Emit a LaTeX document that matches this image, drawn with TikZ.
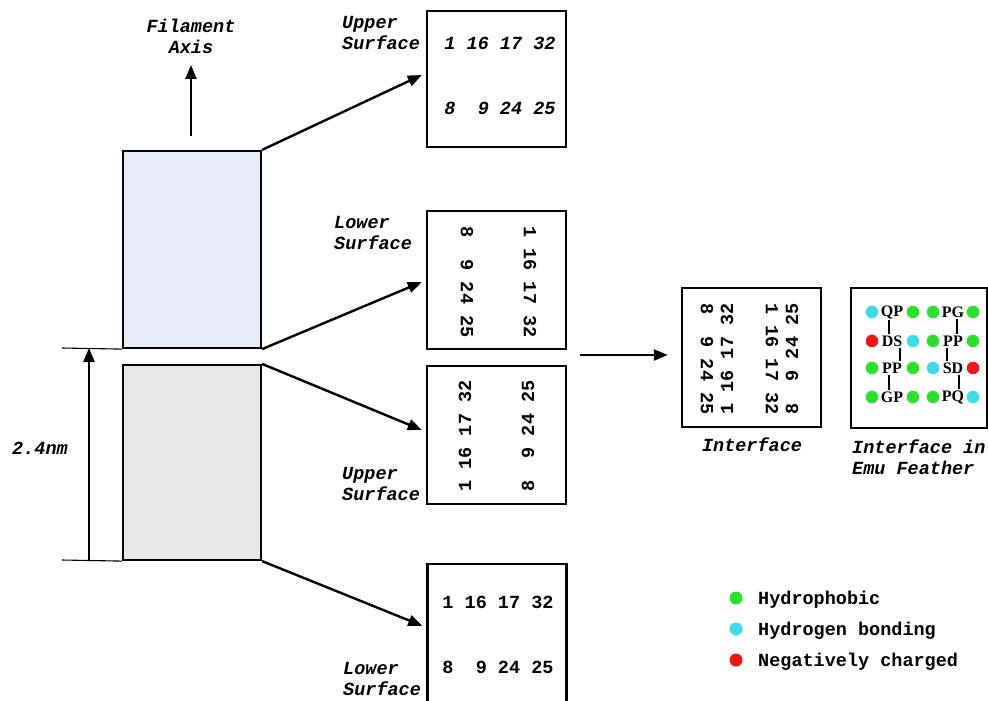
\documentclass[tikz,border=0pt]{standalone}
\usepackage{fontspec}
\setmainfont{Liberation Serif}
\newfontfamily\cour{Liberation Mono}
\usetikzlibrary{arrows.meta,calc}

\definecolor{slabblue}{RGB}{232,236,248}
\definecolor{slabgray}{RGB}{232,232,232}
\definecolor{phob}{RGB}{40,225,40}
\definecolor{hbond}{RGB}{60,220,235}
\definecolor{neg}{RGB}{240,20,20}

\begin{document}
\begin{tikzpicture}[x=1pt,y=-1pt,
  every node/.style={inner sep=0pt},
  txt/.style={font=\cour\bfseries\fontsize{18.5}{21}\selectfont},
  itxt/.style={font=\cour\bfseries\itshape\fontsize{18.5}{21}\selectfont},
  frame/.style={draw, line width=2.4pt, minimum width=139pt},
  slab/.style={draw, line width=2.2pt, minimum width=138pt},
  arr/.style={line width=2.4pt, -{Triangle[length=14pt,width=11pt]}},
  dot/.style={circle, minimum size=12.5pt},
  res/.style={font=\bfseries\fontsize{16}{16}\selectfont},
  link/.style={line width=2.2pt, shorten <=1.5pt, shorten >=1.5pt}]

\useasboundingbox (0,0) rectangle (988,701);

% the two filament slabs
\node[slab, fill=slabblue, minimum height=197pt] (up) at (192,249.5) {};
\node[slab, fill=slabgray, minimum height=195pt] (low) at (192,462.5) {};

% filament axis
\node[itxt, align=center] (fa) at (191,36) {Filament\\Axis};
\coordinate (axfoot) at (191,136);
\coordinate (axtip) at (191,65);
\draw[arr] (axfoot) -- (axtip);

% 2.4 nm dimension
\coordinate (dimtop) at (62,348);
\coordinate (dimbot) at (62,560);
\draw[line width=1.1pt] (dimtop) -- (up.south west);
\draw[line width=1.1pt] (dimbot) -- (low.south west);
\coordinate (dimfoot) at (89,560);
\coordinate (dimhead) at (89,348);
\draw[arr] (dimfoot) -- (dimhead);
\node[itxt] (dimlab) at (40,448) {2.4nm};

% surface boxes
\node[frame, minimum height=136pt] (b1) at (496.5,79) {};
\node[frame, minimum height=138pt] (b2) at (496.5,280) {};
\node[frame, minimum height=138pt] (b3) at (496.5,435) {};
\node[frame, minimum height=156pt] (b4) at (497,642) {};

\node[itxt] (b1r1) at (500,43) {1~16~17~32};
\node[itxt] (b1r2) at (500,108) {8~~9~24~25};

\node[txt, rotate=-90] (b2c1) at (467,282) {8~~9~24~25};
\node[txt, rotate=-90] (b2c2) at (530,282) {1~16~17~32};

\node[txt, rotate=90] (b3c1) at (465,436) {1~16~17~32};
\node[txt, rotate=90] (b3c2) at (528,436) {8~~9~24~25};

\node[txt] (b4r1) at (498,602) {1~16~17~32};
\node[txt] (b4r2) at (498,667) {8~~9~24~25};

% surface labels
\node[itxt, align=left, anchor=west] (l1) at (342,33) {Upper\\Surface};
\node[itxt, align=left, anchor=west] (l2) at (334,233) {Lower\\Surface};
\node[itxt, align=left, anchor=west] (l3) at (342,484) {Upper\\Surface};
\node[itxt, align=left, anchor=west] (l4) at (343,679) {Lower\\Surface};

% slab corners to surface boxes
\draw[arr] (up.north east) -- ($(b1.west)+(-4,-4)$);
\draw[arr] (up.south east) -- ($(b2.west)+(-4,2)$);
\draw[arr] (low.north east) -- ($(b3.west)+(-4,-5)$);
\draw[arr] (low.south east) -- ($(b4.north west)+(-4,63)$);

% interface
\node[frame, minimum height=139pt] (ib) at (751.5,357.5) {};
\node[txt, rotate=-90] (ic1) at (707,359) {8~~9~24~25};
\node[txt, rotate=90] (ic2) at (727,359) {1~16~17~32};
\node[txt, rotate=-90] (ic3) at (772,359) {1~16~17~32};
\node[txt, rotate=90] (ic4) at (792,359) {8~~9~24~25};
\node[itxt] (ilab) at (752,445) {Interface};
\coordinate (joinfoot) at (580,355);
\draw[arr] (joinfoot) -- ($(ib.west)+(-13,-2.5)$);

% interface in emu feather
\node[frame, minimum width=136pt, minimum height=140pt] (eb) at (919,358) {};
\node[itxt, align=left, anchor=west] (elab) at (852,457) {Interface in\\Emu Feather};

\node[res] (qp) at (892,312) {QP};
\node[res] (ds) at (892,341) {DS};
\node[res] (pp1) at (892,368) {PP};
\node[res] (gp) at (892,397) {GP};
\node[res] (pg) at (953,312) {PG};
\node[res] (pp2) at (953,341) {PP};
\node[res] (sd) at (953,368) {SD};
\node[res] (pq) at (953,397) {PQ};

\node[dot, fill=hbond] (qpa) at (872,312) {};
\node[dot, fill=phob]  (qpb) at (913,312) {};
\node[dot, fill=neg]   (dsa) at (872,341) {};
\node[dot, fill=hbond] (dsb) at (913,341) {};
\node[dot, fill=phob]  (ppa) at (872,368) {};
\node[dot, fill=phob]  (ppb) at (913,368) {};
\node[dot, fill=phob]  (gpa) at (872,397) {};
\node[dot, fill=phob]  (gpb) at (913,397) {};

\node[dot, fill=phob]  (pga) at (933,312) {};
\node[dot, fill=phob]  (pgb) at (973,312) {};
\node[dot, fill=phob]  (pp2a) at (933,341) {};
\node[dot, fill=phob]  (pp2b) at (973,341) {};
\node[dot, fill=hbond] (sda) at (933,368) {};
\node[dot, fill=neg]   (sdb) at (973,368) {};
\node[dot, fill=phob]  (pqa) at (933,397) {};
\node[dot, fill=hbond] (pqb) at (973,397) {};

\draw[link] ([xshift=-3pt]qp.south) -- ([xshift=-3pt]ds.north);
\draw[link] ([xshift=8pt]ds.south) -- ([xshift=8pt]pp1.north);
\draw[link] ([xshift=-3pt]pp1.south) -- ([xshift=-3pt]gp.north);
\draw[link] ([xshift=4pt]pg.south) -- ([xshift=4pt]pp2.north);
\draw[link] ([xshift=-6pt]pp2.south) -- ([xshift=-6pt]sd.north);
\draw[link] ([xshift=6pt]sd.south) -- ([xshift=6pt]pq.north);

% legend
\node[dot, minimum size=13pt, fill=phob]  (k1) at (736,598) {};
\node[dot, minimum size=13pt, fill=hbond] (k2) at (736,629) {};
\node[dot, minimum size=13pt, fill=neg]   (k3) at (736,660) {};
\node[txt, anchor=base west] (k1t) at (758,604) {Hydrophobic};
\node[txt, anchor=base west] (k2t) at (758,635) {Hydrogen bonding};
\node[txt, anchor=base west] (k3t) at (758,666) {Negatively charged};
\end{tikzpicture}
\end{document}
